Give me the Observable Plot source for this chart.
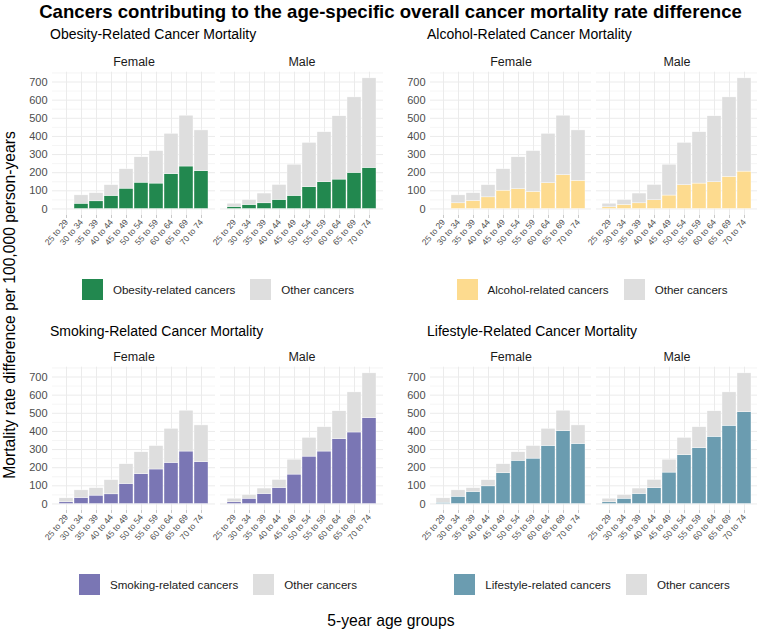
<!DOCTYPE html>
<html>
<head>
<meta charset="utf-8">
<script src="https://cdn.jsdelivr.net/npm/d3@7"></script>
<script src="https://cdn.jsdelivr.net/npm/@observablehq/plot@0.6"></script>
<style>
  html, body { margin: 0; padding: 0; background: #fff; }
  #root { position: relative; width: 761px; height: 632px; overflow: hidden; font-family: "Liberation Sans", Arial, sans-serif; }
  .abs { position: absolute; white-space: nowrap; }
  .title { font-weight: bold; font-size: 18.6px; color: #000; }
  .ptitle { font-size: 14px; color: #000; }
  .legend { display: flex; align-items: center; font-size: 11.6px; color: #1a1a1a; }
  .key { width: 21px; height: 21px; margin-right: 10px; }
  .svgwrap svg { overflow: visible; }
</style>
</head>
<body>
<div id="root"></div>
<script>
// ---------- data ----------
const ages = ["25 to 29","30 to 34","35 to 39","40 to 44","45 to 49","50 to 54","55 to 59","60 to 64","65 to 69","70 to 74"];
const sexes = ["Female","Male"];
const totalFemale = [31, 75, 87, 131, 219, 285, 319, 414, 514, 433];
const totalMale   = [29, 49, 85, 132, 244, 364, 423, 511, 615, 720];
const obesityFemale   = [null, 29, 42, 72, 112, 145, 140, 192, 234, 208];
const obesityMale     = [11, 22, 31, 50, 72, 120, 147, 162, 199, 226];
const alcoholFemale   = [null, 31, 44, 64, 101, 109, 94, 142, 186, 155];
const alcoholMale     = [9, 22, 31, 48, 74, 131, 140, 147, 177, 206];
const smokingFemale   = [9, 33, 46, 53, 110, 164, 190, 226, 289, 230];
const smokingMale     = [9, 29, 55, 88, 162, 261, 289, 357, 394, 473];
const lifestyleFemale = [7, 40, 66, 97, 169, 238, 250, 320, 401, 331];
const lifestyleMale   = [9, 29, 55, 87, 173, 269, 307, 370, 431, 506];
const panelTitles = ["Obesity-Related Cancer Mortality","Alcohol-Related Cancer Mortality","Smoking-Related Cancer Mortality","Lifestyle-Related Cancer Mortality"];
const legendLabels = ["Obesity-related cancers","Alcohol-related cancers","Smoking-related cancers","Lifestyle-related cancers"];
const otherLabel = "Other cancers";
const yTicks = [0,100,200,300,400,500,600,700];
const yMinor = [50,150,250,350,450,550,650,750];
const mainTitle = "Cancers contributing to the age-specific overall cancer mortality rate difference";
const yTitle = "Mortality rate difference per 100,000 person-years";
const xTitle = "5-year age groups";

// ---------- styles ----------
const colors = ["#22884f","#fddb8f","#7a76b4","#6b9cb0"];
const otherColor = "#dedede";
const gridColor = "#ebebeb";
const FONT = '"Liberation Sans", Arial, sans-serif';

const root = document.getElementById("root");
function addDiv(cls, text, css) {
  const d = document.createElement("div");
  d.className = "abs " + cls;
  d.textContent = text;
  Object.assign(d.style, css);
  root.appendChild(d);
  return d;
}

const relF = [obesityFemale, alcoholFemale, smokingFemale, lifestyleFemale];
const relM = [obesityMale, alcoholMale, smokingMale, lifestyleMale];

const layout = [
  {left: 0,   top: 40,  mL: 52, w: 390, mR: 7, tx: 50,  ty: 26,  lx: 218, ly: 289},
  {left: 380, top: 40,  mL: 50, w: 381, mR: 3, tx: 427, ty: 26,  lx: 592, ly: 289},
  {left: 0,   top: 335, mL: 52, w: 390, mR: 7, tx: 50,  ty: 323, lx: 218, ly: 584},
  {left: 380, top: 335, mL: 50, w: 381, mR: 3, tx: 427, ty: 323, lx: 592, ly: 584}
];

for (let p = 0; p < 4; p++) {
  const L = layout[p];
  const rows = [];
  sexes.forEach((sex, si) => {
    const tot = si === 0 ? totalFemale : totalMale;
    const rel = si === 0 ? relF[p] : relM[p];
    ages.forEach((age, i) => {
      if (rel[i] == null) return;
      rows.push({age, sex, cat: legendLabels[p], y1: 0, y2: rel[i]});
      rows.push({age, sex, cat: otherLabel, y1: rel[i], y2: tot[i]});
    });
  });
  const chart = Plot.plot({
    width: L.w,
    height: 220,
    marginLeft: L.mL,
    marginRight: L.mR,
    marginTop: 31.7,
    marginBottom: 45,
    style: {fontFamily: FONT, background: "transparent", overflow: "visible"},
    x: {domain: ages, paddingInner: 0.1, paddingOuter: 0.15, label: null},
    y: {domain: [-36, 754], label: null},
    fx: {domain: sexes, paddingInner: 0.03, paddingOuter: 0, label: null},
    color: {domain: [legendLabels[p], otherLabel], range: [colors[p], otherColor]},
    marks: [
      Plot.gridY(yMinor, {stroke: gridColor, strokeOpacity: 1, strokeWidth: 0.5}),
      Plot.gridY(yTicks, {stroke: gridColor, strokeOpacity: 1, strokeWidth: 1}),
      Plot.gridX(ages, {stroke: gridColor, strokeOpacity: 1, strokeWidth: 1}),
      Plot.barY(rows, {x: "age", y1: "y1", y2: "y2", fx: "sex", fill: "cat", stroke: "white", strokeWidth: 0.4}),
      Plot.axisY(yTicks, {tickSize: 0, tickPadding: 5, fontSize: 11, fill: "#4d4d4d", label: null}),
      Plot.axisX({tickSize: 3, tickRotate: -50, fontSize: 8.5, stroke: "#c8c8c8", fill: "#4d4d4d", tickPadding: 2, label: null}),
      Plot.axisFx({anchor: "top", tickSize: 0, tickPadding: 6, fontSize: 12.5, fill: "#1a1a1a", label: null})
    ]
  });
  const wrap = document.createElement("div");
  wrap.className = "abs svgwrap";
  Object.assign(wrap.style, {left: L.left + "px", top: L.top + "px"});
  wrap.appendChild(chart);
  root.appendChild(wrap);

  addDiv("ptitle", panelTitles[p], {left: L.tx + "px", top: L.ty + "px", lineHeight: "16px"});

  const lg = document.createElement("div");
  lg.className = "abs legend";
  const items = [[colors[p], legendLabels[p]], [otherColor, otherLabel]];
  items.forEach(([c, t], k) => {
    const key = document.createElement("div");
    key.className = "key";
    key.style.background = c;
    const sp = document.createElement("span");
    sp.textContent = t;
    if (k === 0) sp.style.marginRight = "15px";
    lg.appendChild(key);
    lg.appendChild(sp);
  });
  root.appendChild(lg);
  Object.assign(lg.style, {top: (L.ly - 10.5) + "px", left: "0px"});
  const wLg = lg.getBoundingClientRect().width;
  lg.style.left = (L.lx - wLg / 2) + "px";
}

// titles
const t = addDiv("title", mainTitle, {top: "2px", left: "0px", lineHeight: "20px"});
t.style.left = (390.5 - t.getBoundingClientRect().width / 2) + "px";

const xt = addDiv("", xTitle, {fontSize: "15.7px", top: "612px", lineHeight: "18px", color: "#000"});
xt.style.left = (391 - xt.getBoundingClientRect().width / 2) + "px";

const yt = addDiv("", yTitle, {fontSize: "15.7px", lineHeight: "18px", color: "#000"});
const yw = yt.getBoundingClientRect().width;
Object.assign(yt.style, {left: (10 - yw / 2) + "px", top: (305 - 9) + "px", transform: "rotate(-90deg)", transformOrigin: "50% 50%"});
</script>
</body>
</html>
